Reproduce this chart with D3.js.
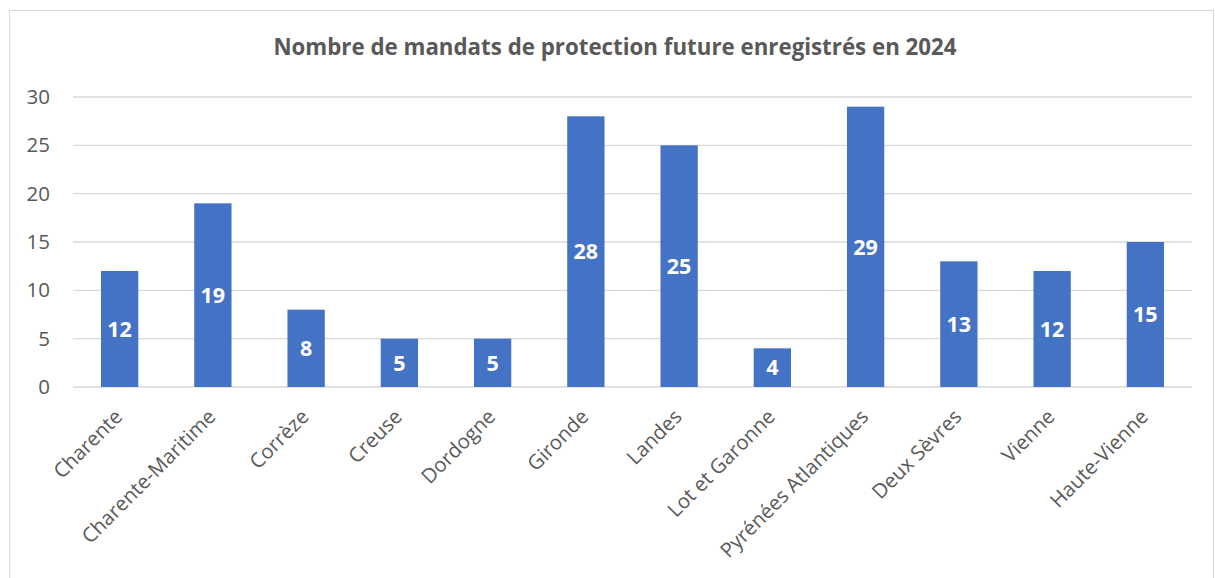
<!DOCTYPE html>
<html>
<head>
<meta charset="utf-8">
<script src="https://cdn.jsdelivr.net/npm/d3@7"></script>
<style>
  body { margin: 0; background: #fff; }
  svg { display: block; font-family: "Open Sans", sans-serif; }
</style>
</head>
<body>
<svg id="chart" width="1215" height="578"></svg>
<script>
// Departments and number of registered mandates
const departements = ["Charente", "Charente-Maritime", "Corrèze", "Creuse", "Dordogne", "Gironde",
  "Landes", "Lot et Garonne", "Pyrénées Atlantiques", "Deux Sèvres", "Vienne", "Haute-Vienne"];
const mandats = [12, 19, 8, 5, 5, 28, 25, 4, 29, 13, 12, 15];
const yTicks = [0, 5, 10, 15, 20, 25, 30];
const titre = "Nombre de mandats de protection future enregistrés en 2024";

const svg = d3.select("#chart");
const plot = { left: 73, right: 1192, top: 97, bottom: 387 };
const FONT = "'Open Sans', sans-serif";

// outer frame
svg.append("rect")
  .attr("x", 9.5).attr("y", 10.5)
  .attr("width", 1204).attr("height", 580)
  .attr("fill", "#fff").attr("stroke", "#d9d9d9").attr("stroke-width", 1);

svg.append("text")
  .attr("x", 615).attr("y", 55)
  .attr("text-anchor", "middle")
  .attr("font-size", 22.3).attr("font-weight", "bold")
  .attr("fill", "#595959")
  .text(titre);

const x = d3.scaleBand().domain(departements).range([plot.left, plot.right]).paddingInner(0.6).paddingOuter(0.3);
const y = d3.scaleLinear().domain([0, 30]).range([plot.bottom, plot.top]);

// gridlines
svg.append("g").selectAll("line").data(yTicks).join("line")
  .attr("x1", plot.left).attr("x2", plot.right)
  .attr("y1", d => y(d)).attr("y2", d => y(d))
  .attr("stroke", "#d9d9d9").attr("stroke-width", 1.3);

// y axis labels
const yAxis = svg.append("g").attr("transform", `translate(${plot.left - 23},0)`)
  .call(d3.axisLeft(y).tickValues(yTicks).tickSize(0).tickPadding(0));
yAxis.select(".domain").remove();
yAxis.selectAll("text").attr("font-size", 20.5).attr("fill", "#595959")
  .attr("font-family", FONT);

// bars
svg.append("g").selectAll("rect").data(mandats).join("rect")
  .attr("x", (d, i) => x(departements[i]))
  .attr("y", d => y(d))
  .attr("width", x.bandwidth())
  .attr("height", d => y(0) - y(d))
  .attr("fill", "#4472c4");

// value labels
svg.append("g").selectAll("text").data(mandats).join("text")
  .attr("x", (d, i) => x(departements[i]) + x.bandwidth() / 2)
  .attr("y", d => (y(d) + y(0)) / 2)
  .attr("dy", "0.36em")
  .attr("text-anchor", "middle")
  .attr("font-size", 21.5).attr("font-weight", "bold")
  .attr("font-family", FONT)
  .attr("fill", "#fff")
  .text(d => d);

// category axis labels
const xAxis = svg.append("g").attr("transform", `translate(0,${plot.bottom})`)
  .call(d3.axisBottom(x).tickSize(0).tickPadding(0));
xAxis.select(".domain").remove();
xAxis.selectAll("text")
  .attr("font-size", 20.3).attr("fill", "#595959")
  .attr("font-family", FONT)
  .attr("text-anchor", "end")
  .attr("dy", null).attr("y", 0)
  .attr("transform", "translate(4,31) rotate(-45)");
</script>
</body>
</html>
